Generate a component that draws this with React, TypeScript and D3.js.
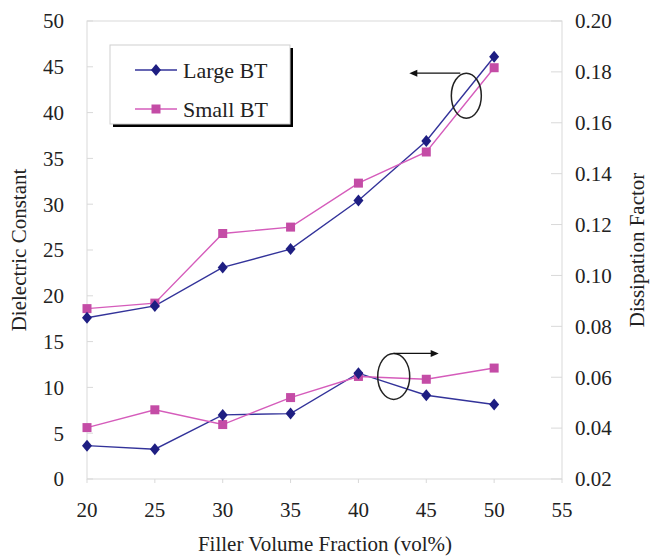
import React from 'react';
import { scaleLinear, line } from 'd3';

// filler volume fraction (vol%)
const fractions = [20, 25, 30, 35, 40, 45, 50];

// dielectric constant (left axis)
const dkLarge = [17.6, 18.9, 23.1, 25.1, 30.4, 36.9, 46.1];
const dkSmall = [18.6, 19.2, 26.8, 27.5, 32.3, 35.7, 44.9];

// dissipation factor (right axis)
const dfLarge = [0.0331, 0.0317, 0.0452, 0.0457, 0.0616, 0.0529, 0.0493];
const dfSmall = [0.0402, 0.0472, 0.0414, 0.052, 0.0603, 0.0592, 0.0636];

const xTicks = [20, 25, 30, 35, 40, 45, 50, 55];
const leftTicks = [0, 5, 10, 15, 20, 25, 30, 35, 40, 45, 50];
const rightTicks = [0.02, 0.04, 0.06, 0.08, 0.1, 0.12, 0.14, 0.16, 0.18, 0.2];

const seriesNames = ['Large BT', 'Small BT'];

const width = 650;
const height = 556;
const margin = { top: 21, right: 88, bottom: 77, left: 87 };
const innerW = width - margin.left - margin.right;
const innerH = height - margin.top - margin.bottom;

const blueLine = '#33339a';
const blueMark = '#1e1e82';
const pinkLine = '#d55cbb';
const pinkMark = '#c44ca6';
const frame = '#d9d9d9';
const font = "'Liberation Serif', 'DejaVu Serif', 'Times New Roman', serif";

const x = scaleLinear().domain([20, 55]).range([0, innerW]);
const yL = scaleLinear().domain([0, 50]).range([innerH, 0]);
const yR = scaleLinear().domain([0.02, 0.2]).range([innerH, 0]);

const Diamond = ({ cx, cy, fill }: { cx: number; cy: number; fill: string }) => (
  <path d={`M${cx},${cy - 6}L${cx + 5},${cy}L${cx},${cy + 6}L${cx - 5},${cy}Z`} fill={fill} />
);
const Square = ({ cx, cy, fill }: { cx: number; cy: number; fill: string }) => (
  <rect x={cx - 4.5} y={cy - 4.5} width={9} height={9} fill={fill} />
);

export default function App() {
  const lineL = line<number>()
    .x((_, i) => x(fractions[i]))
    .y(d => yL(d));
  const lineR = line<number>()
    .x((_, i) => x(fractions[i]))
    .y(d => yR(d));

  // annotation ellipses (in data coordinates)
  const topE = { cx: x(47.95), cy: yL(41.85) };
  const botE = { cx: x(42.6), cy: yL(11.2) };

  return (
    <svg
      width={width}
      height={height}
      style={{ position: 'absolute', left: 0, top: 0, background: '#fff', fontFamily: font }}>
      <g transform={`translate(${margin.left}, ${margin.top})`}>
        <rect x={0} y={0} width={innerW} height={innerH} fill='none' stroke={frame} strokeWidth={1} />
        {xTicks.map(t => (
          <g key={t} transform={`translate(${x(t)}, 0)`}>
            <line y1={innerH} y2={innerH + 4} stroke={frame} />
            <text y={innerH + 38} textAnchor='middle' fontSize={21} fill='#222'>
              {t}
            </text>
          </g>
        ))}
        {leftTicks.map(t => (
          <g key={t} transform={`translate(0, ${yL(t)})`}>
            <line x1={0} x2={6} stroke={frame} />
            <text x={-23} dy='.35em' textAnchor='end' fontSize={21} fill='#222'>
              {t}
            </text>
          </g>
        ))}
        {rightTicks.map(t => (
          <g key={t} transform={`translate(${innerW}, ${yR(t)})`}>
            <line x1={-11} x2={0} stroke={frame} />
            <text x={13} dy='.35em' textAnchor='start' fontSize={21} fill='#222'>
              {t.toFixed(2)}
            </text>
          </g>
        ))}

        <path d={lineL(dkLarge) || ''} fill='none' stroke={blueLine} strokeWidth={1.4} />
        <path d={lineL(dkSmall) || ''} fill='none' stroke={pinkLine} strokeWidth={1.4} />
        <path d={lineR(dfLarge) || ''} fill='none' stroke={blueLine} strokeWidth={1.4} />
        <path d={lineR(dfSmall) || ''} fill='none' stroke={pinkLine} strokeWidth={1.4} />

        {dkSmall.map((d, i) => (
          <Square key={'ks' + i} cx={x(fractions[i])} cy={yL(d)} fill={pinkMark} />
        ))}
        {dkLarge.map((d, i) => (
          <Diamond key={'kl' + i} cx={x(fractions[i])} cy={yL(d)} fill={blueMark} />
        ))}
        {dfSmall.map((d, i) => (
          <Square key={'fs' + i} cx={x(fractions[i])} cy={yR(d)} fill={pinkMark} />
        ))}
        {dfLarge.map((d, i) => (
          <Diamond key={'fl' + i} cx={x(fractions[i])} cy={yR(d)} fill={blueMark} />
        ))}

        {/* annotations */}
        <ellipse cx={topE.cx} cy={topE.cy} rx={15} ry={22.5} fill='none' stroke='#222' strokeWidth={1.5} />
        <line x1={topE.cx - 6} y1={topE.cy - 22.5} x2={topE.cx - 50} y2={topE.cy - 22.5} stroke='#111' strokeWidth={1.3} />
        <path d={`M${topE.cx - 57},${topE.cy - 22.5}l8,-3.5l0,7Z`} fill='#111' />
        <ellipse cx={botE.cx} cy={botE.cy} rx={16} ry={23} fill='none' stroke='#222' strokeWidth={1.5} />
        <line x1={botE.cx} y1={botE.cy - 23} x2={botE.cx + 38} y2={botE.cy - 23} stroke='#111' strokeWidth={1.3} />
        <path d={`M${botE.cx + 45},${botE.cy - 23}l-8,-3.5l0,7Z`} fill='#111' />
      </g>

      {/* legend */}
      <g transform='translate(110, 45)'>
        <rect x={3} y={3} width={180} height={79} fill='#000' />
        <rect x={0} y={0} width={180} height={79} fill='#fff' stroke='#cfcfcf' strokeWidth={1} />
        {seriesNames.map((name, i) => {
          const ly = 25 + i * 39;
          return (
            <g key={name}>
              <line x1={25} x2={67} y1={ly} y2={ly} stroke={i === 0 ? blueLine : pinkLine} strokeWidth={1.4} />
              {i === 0 ? (
                <Diamond cx={46} cy={ly} fill={blueMark} />
              ) : (
                <Square cx={46} cy={ly} fill={pinkMark} />
              )}
              <text x={73} y={ly} dy='.35em' fontSize={22} fill='#222'>
                {name}
              </text>
            </g>
          );
        })}
      </g>

      {/* axis titles */}
      <text x={325} y={551} textAnchor='middle' fontSize={21} fill='#222'>
        Filler Volume Fraction (vol%)
      </text>
      <text
        transform={`translate(19, ${margin.top + innerH / 2}) rotate(-90)`}
        textAnchor='middle'
        dy='.35em'
        fontSize={21}
        fill='#222'>
        Dielectric Constant
      </text>
      <text
        transform={`translate(637, ${margin.top + innerH / 2}) rotate(-90)`}
        textAnchor='middle'
        dy='.35em'
        fontSize={21}
        fill='#222'>
        Dissipation Factor
      </text>
    </svg>
  );
}
